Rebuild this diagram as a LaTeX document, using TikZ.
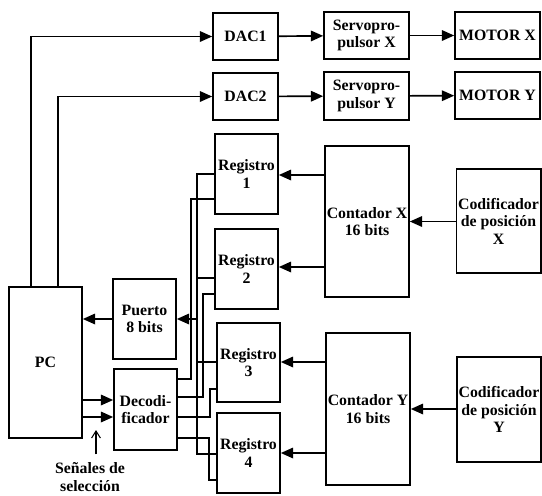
\documentclass[tikz,border=0pt]{standalone}
\usepackage{fontspec}
\setmainfont{Liberation Serif}
\usetikzlibrary{arrows.meta}
\begin{document}
\begin{tikzpicture}[x=0.02cm,y=-0.02cm,
  box/.style={draw, line width=0.95pt, align=center, inner sep=1pt,
    font=\fontsize{9}{10}\selectfont\bfseries},
  wire/.style={line width=0.95pt},
  arr/.style={wire, -{Triangle[length=7pt,width=6pt]}},
  lbl/.style={align=center, font=\fontsize{9}{10}\selectfont\bfseries}]
\useasboundingbox (0,0) rectangle (542,495);
% boxes
\node[box, minimum width=1.30cm, minimum height=0.94cm] (dac1) at (245.5,36.5) {DAC1};
\node[box, minimum width=1.30cm, minimum height=0.94cm] (dac2) at (245.5,96.5) {DAC2};
\node[box, minimum width=1.70cm, minimum height=0.94cm] (svx) at (366.5,35.5) {Servopro-\\pulsor X};
\node[box, minimum width=1.70cm, minimum height=0.96cm] (svy) at (366.5,96) {Servopro-\\pulsor Y};
\node[box, minimum width=1.70cm, minimum height=0.94cm] (mx) at (497.5,35.5) {MOTOR X};
\node[box, minimum width=1.70cm, minimum height=0.94cm] (my) at (497.5,95.5) {MOTOR Y};
\node[box, minimum width=1.26cm, minimum height=1.60cm] (r1) at (246.5,174) {Registro\\1};
\node[box, minimum width=1.26cm, minimum height=1.60cm] (r2) at (246.5,269) {Registro\\2};
\node[box, minimum width=1.26cm, minimum height=1.58cm] (r3) at (248.5,362.5) {Registro\\3};
\node[box, minimum width=1.26cm, minimum height=1.60cm] (r4) at (248.5,453) {Registro\\4};
\node[box, minimum width=1.68cm, minimum height=3.02cm] (cx) at (367,221.5) {Contador X\\16 bits};
\node[box, minimum width=1.68cm, minimum height=3.04cm] (cy) at (368,409) {Contador Y\\16 bits};
\node[box, minimum width=1.64cm, minimum height=2.08cm] (kx) at (498.5,221) {Codificador\\de posición\\X};
\node[box, minimum width=1.64cm, minimum height=2.10cm] (ky) at (499,409.5) {Codificador\\de posición\\Y};
\node[box, minimum width=1.46cm, minimum height=3.02cm] (pc) at (45.5,362.5) {PC};
\node[box, minimum width=1.26cm, minimum height=1.60cm] (pt) at (144.5,319) {Puerto\\8 bits};
\node[box, minimum width=1.26cm, minimum height=1.62cm] (dec) at (145.5,409.5) {Decodi-\\ficador};
% helper coordinates
\coordinate (x31) at (31,0);
\coordinate (x58) at (58,0);
\coordinate (ya) at (0,175);
\coordinate (yb) at (0,267);
\coordinate (yc) at (0,362);
\coordinate (yd) at (0,453);
\coordinate (p1) at (0,400);
\coordinate (p2) at (0,417);
% PC to DACs
\draw[arr] (pc.north -| x31) |- (dac1.west);
\draw[arr] (pc.north -| x58) |- (dac2.west);
% top chain
\draw[arr] (dac1) -- (svx);
\draw[arr] (svx) -- (mx);
\draw[arr] (dac2) -- (svy);
\draw[arr] (svy) -- (my);
% counters
\draw[arr] (kx.west |- cx.east) -- (cx.east);
\draw[arr] (ky.west |- cy.east) -- (cy.east);
\draw[arr] (cx.west |- ya) -- (r1.east |- ya);
\draw[arr] (cx.west |- yb) -- (r2.east |- yb);
\draw[arr] (cy.west |- yc) -- (r3.east |- yc);
\draw[arr] (cy.west |- yd) -- (r4.east |- yd);
% port and decoder
\draw[arr] (pt.west) -- (pt.west -| pc.east);
\draw[arr] (pc.east |- p1) -- (dec.west |- p1);
\draw[arr] (pc.east |- p2) -- (dec.west |- p2);
% data bus
\coordinate (b1) at (197,174);
\coordinate (b2) at (197,278);
\coordinate (b3) at (197,362);
\coordinate (b4) at (197,454);
\coordinate (bp) at (197,319);
\draw[wire] (r1.west |- b1) -- (b1) -- (b4) -- (r4.west |- b4);
\draw[wire] (b2) -- (r2.west |- b2);
\draw[wire] (b3) -- (r3.west |- b3);
\draw[arr] (bp) -- (bp -| pt.east);
% decoder enables
\coordinate (d1) at (0,379);
\coordinate (d2) at (0,397);
\coordinate (d3) at (0,417);
\coordinate (d4) at (0,438);
\coordinate (v1) at (191,199);
\coordinate (v2) at (203,294);
\coordinate (v3) at (210,389);
\coordinate (v4) at (209,480);
\draw[wire] (dec.east |- d1) -| (v1) -- (v1 -| r1.west);
\draw[wire] (dec.east |- d2) -| (v2) -- (v2 -| r2.west);
\draw[wire] (dec.east |- d3) -| (v3) -- (v3 -| r3.west);
\draw[wire] (dec.east |- d4) -| (v4) -- (v4 -| r4.west);
% selection label
\node[lbl] (sel) at (90,477) {Señales de\\selección};
\coordinate (st) at (96,430);
\draw[line width=0.6pt, -{Straight Barb[length=4pt,width=5pt]}] (sel.north -| st) ++(0,-2) -- (st);
\end{tikzpicture}
\end{document}
